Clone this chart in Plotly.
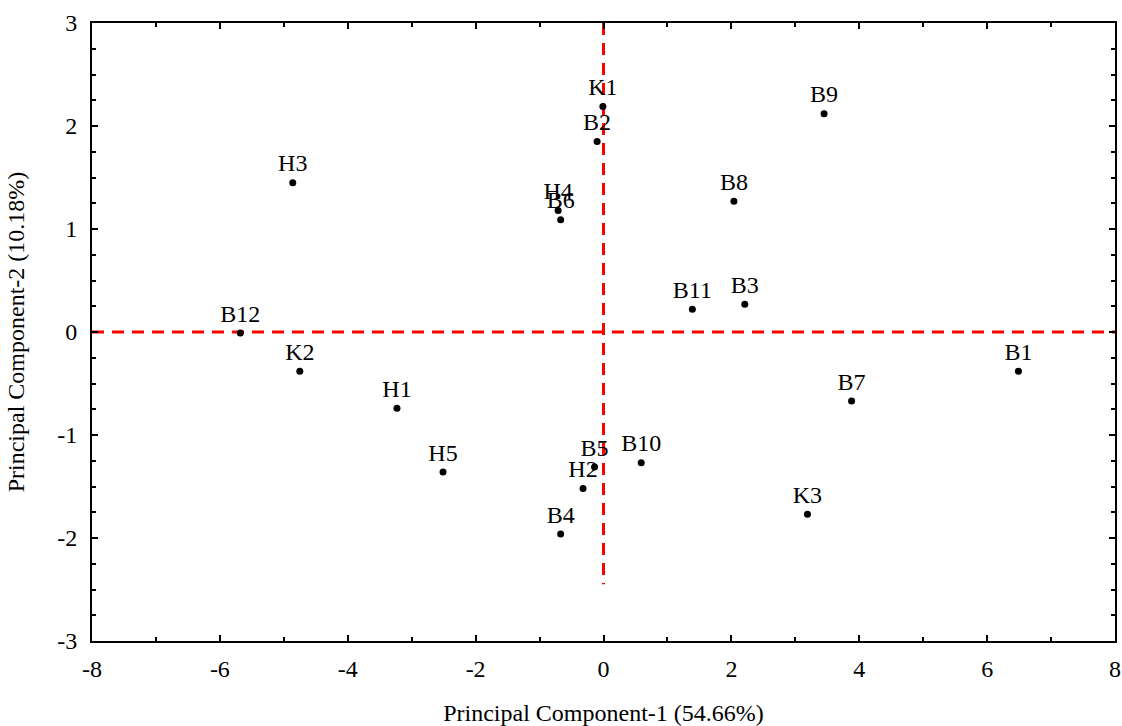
import plotly.graph_objects as go

labels = ["K1", "B2", "B9", "H3", "H4", "B6", "B8", "B11", "B3", "B12", "K2",
          "B1", "B7", "H1", "H5", "B5", "B10", "H2", "K3", "B4"]
pc1 = [-0.01, -0.10, 3.45, -4.86, -0.71, -0.67, 2.04, 1.39, 2.21, -5.68, -4.75,
       6.49, 3.88, -3.23, -2.51, -0.14, 0.59, -0.32, 3.19, -0.67]
pc2 = [2.19, 1.85, 2.12, 1.45, 1.18, 1.09, 1.27, 0.22, 0.27, -0.01, -0.38,
       -0.38, -0.67, -0.74, -1.36, -1.31, -1.27, -1.52, -1.77, -1.96]

x_ticks = [-8, -6, -4, -2, 0, 2, 4, 6, 8]
x_ticktext = ["-8", "-6", "-4", "-2", "0", "2", "4", "6", "8"]
y_ticks = [-3, -2, -1, 0, 1, 2, 3]
y_ticktext = ["-3", "-2", "-1", "0", "1", "2", "3"]

x_title = "Principal Component-1 (54.66%)"
y_title = "Principal Component-2 (10.18%)"

hline_x = [-8, 8]
hline_y = [0, 0]
vline_x = [0, 0]
vline_y = [3, -2.45]

FONT = "Liberation Serif, Times New Roman, serif"

fig = go.Figure()
fig.add_trace(go.Scatter(x=hline_x, y=hline_y, mode="lines",
                         line=dict(color="#ff0000", width=3, dash="12px,8px"),
                         hoverinfo="skip", showlegend=False))
fig.add_trace(go.Scatter(x=vline_x, y=vline_y, mode="lines",
                         line=dict(color="#ff0000", width=3, dash="12px,8px"),
                         hoverinfo="skip", showlegend=False))
fig.add_trace(go.Scatter(x=pc1, y=pc2, mode="markers+text", text=labels,
                         textposition="top center",
                         textfont=dict(family=FONT, size=24, color="black"),
                         marker=dict(color="black", size=7),
                         showlegend=False))

axis_common = dict(
    showgrid=False, zeroline=False, showline=True, linecolor="black", linewidth=2,
    mirror="allticks", ticks="inside", ticklen=6, tickwidth=2, tickcolor="black",
    tickfont=dict(family=FONT, size=24, color="black"), automargin=False,
    ticklabeloverflow="allow",
)

fig.update_xaxes(range=[-8, 8], tickmode="array", tickvals=x_ticks, ticktext=x_ticktext,
                 minor=dict(dtick=1, tick0=-8, ticks="inside", ticklen=4, tickwidth=2, tickcolor="black"),
                 title=dict(text=x_title, font=dict(family=FONT, size=24, color="black"), standoff=30),
                 ticklabelstandoff=5,
                 **axis_common)
fig.update_yaxes(range=[-3, 3], tickmode="array", tickvals=y_ticks, ticktext=y_ticktext,
                 minor=dict(dtick=0.25, tick0=-3, ticks="inside", ticklen=4, tickwidth=2, tickcolor="black"),
                 title=dict(text=y_title, font=dict(family=FONT, size=24, color="black"), standoff=26),
                 ticklabelstandoff=8,
                 **axis_common)

fig.update_layout(width=1122, height=726,
                  margin=dict(l=92, r=7, t=23, b=85),
                  plot_bgcolor="white", paper_bgcolor="white",
                  font=dict(family=FONT, color="black"))

fig.write_html("out.html", config={"displayModeBar": False},
               post_script="document.body.style.margin='0px';document.body.style.overflow='hidden';")
